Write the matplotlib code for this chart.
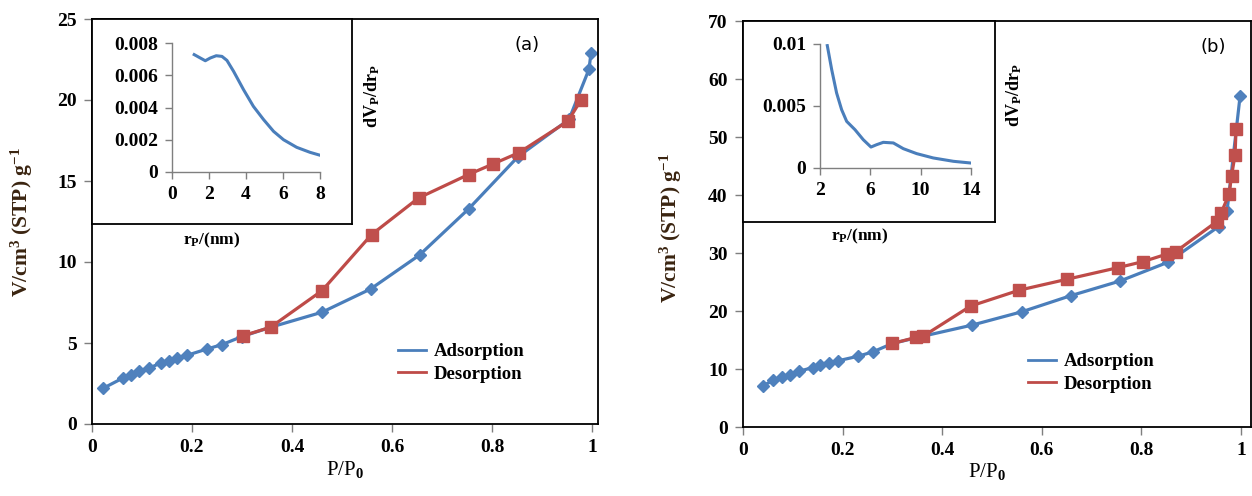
import matplotlib
matplotlib.use("Agg")
import matplotlib.pyplot as plt
from matplotlib.lines import Line2D

plt.rcParams["font.family"] = "Liberation Serif"
plt.rcParams["font.weight"] = "bold"
plt.rcParams["mathtext.fontset"] = "custom"
plt.rcParams["mathtext.rm"] = "Liberation Serif"
plt.rcParams["mathtext.bf"] = "Liberation Serif:bold"
plt.rcParams["mathtext.it"] = "Liberation Serif:italic"

# panel (a) isotherm
ads_a_x = [0.022, 0.062, 0.078, 0.094, 0.114, 0.138, 0.154, 0.170, 0.190, 0.230, 0.260,
           0.300, 0.357, 0.460, 0.557, 0.655, 0.753, 0.852, 0.954, 0.994, 0.998]
ads_a_y = [2.2, 2.84, 3.02, 3.3, 3.44, 3.78, 3.91, 4.1, 4.24, 4.63, 4.9,
           5.4, 5.97, 6.9, 8.33, 10.43, 13.27, 16.5, 18.8, 21.9, 22.9]
des_a_x = [0.302, 0.357, 0.460, 0.559, 0.653, 0.753, 0.802, 0.854, 0.952, 0.978]
des_a_y = [5.45, 5.97, 8.23, 11.69, 13.95, 15.4, 16.05, 16.75, 18.7, 20.0]

# panel (b) isotherm
ads_b_x = [0.040, 0.061, 0.079, 0.095, 0.113, 0.140, 0.154, 0.172, 0.190, 0.231, 0.261,
           0.300, 0.356, 0.460, 0.560, 0.658, 0.757, 0.853, 0.955, 0.972, 0.998]
ads_b_y = [7.1, 8.06, 8.64, 8.93, 9.62, 10.25, 10.77, 11.12, 11.4, 12.2, 12.96,
           14.4, 15.55, 17.57, 19.87, 22.64, 25.17, 28.4, 34.56, 37.27, 57.0]
des_b_x = [0.300, 0.347, 0.362, 0.457, 0.555, 0.650, 0.753, 0.803, 0.852, 0.869,
           0.951, 0.960, 0.976, 0.981, 0.988, 0.990]
des_b_y = [14.4, 15.44, 15.67, 20.85, 23.6, 25.46, 27.48, 28.51, 29.84, 30.24,
           35.4, 36.9, 40.15, 43.3, 46.95, 51.4]

# pore size distributions (insets)
psd_a_r = [1.2, 1.53, 1.8, 2.07, 2.39, 2.7, 2.97, 3.33, 3.87, 4.4, 4.95, 5.49, 6.03, 6.74, 7.46, 8.09]
psd_a_v = [0.00728, 0.00707, 0.0069, 0.00707, 0.00721, 0.00717, 0.00692, 0.00624, 0.0051,
           0.00407, 0.00325, 0.00252, 0.0020, 0.00153, 0.00122, 0.00101]
psd_b_r = [2.58, 2.93, 3.32, 3.72, 4.12, 4.78, 5.44, 6.05, 6.5, 7.03, 7.83, 8.62, 9.68, 11.0, 12.6, 14.0]
psd_b_v = [0.00987, 0.00793, 0.00605, 0.0047, 0.00376, 0.00309, 0.00228, 0.00169, 0.00188,
           0.00207, 0.00202, 0.00156, 0.00116, 0.00081, 0.00054, 0.0004]

blue_line, blue = "#4a7ebb", "#4f81bd"
red_line, red = "#be4b48", "#c0504d"
tick_gray = "#7f7f7f"
W, H = 1252, 496


def fx(px):
    return px / W


def fy(py):
    return 1 - py / H


fig = plt.figure(figsize=(12.52, 4.96), dpi=100)


def main_panel(left, right, top, bottom, xmax, ymax, ystep, ads, des):
    ax = fig.add_axes([fx(left), fy(bottom), fx(right - left), (bottom - top) / H])
    ax.plot(ads[0], ads[1], color=blue_line, lw=2.3, marker="D", ms=6.5,
            mfc=blue, mec=blue, zorder=2)
    ax.plot(des[0], des[1], color=red_line, lw=2.3, marker="s", ms=8.5,
            mfc=red, mec=red, zorder=3)
    ax.set_xlim(0, xmax)
    ax.set_ylim(0, ymax)
    ax.set_xticks([0, 0.2, 0.4, 0.6, 0.8, 1])
    ax.set_xticklabels(["0", "0.2", "0.4", "0.6", "0.8", "1"])
    yt = list(range(0, ymax + 1, ystep))
    ax.set_yticks(yt)
    ax.set_yticklabels([str(v) for v in yt])
    ax.tick_params(direction="out", length=6, width=1, color=tick_gray,
                   labelsize=14, pad=5)
    for s in ax.spines.values():
        s.set_linewidth(1.3)
        s.set_color("black")
    return ax


def inset(box, inner, xlim, xticks, ylim, yticks, ylabels, r, v):
    bx = fig.add_axes([fx(box[0]), fy(box[3]), fx(box[1] - box[0]), (box[3] - box[2]) / H], zorder=5)
    bx.set_xticks([])
    bx.set_yticks([])
    for s in bx.spines.values():
        s.set_linewidth(1.3)
        s.set_color("black")
    ix = fig.add_axes([fx(inner[0]), fy(inner[3]), fx(inner[1] - inner[0]), (inner[3] - inner[2]) / H], zorder=6)
    ix.patch.set_alpha(0)
    ix.plot(r, v, color=blue_line, lw=2.2)
    ix.set_xlim(*xlim)
    ix.set_ylim(*ylim)
    ix.set_xticks(xticks)
    ix.set_xticklabels([str(t) for t in xticks])
    ix.set_yticks(yticks)
    ix.set_yticklabels(ylabels)
    ix.spines["top"].set_visible(False)
    ix.spines["right"].set_visible(False)
    for s in ("left", "bottom"):
        ix.spines[s].set_color(tick_gray)
        ix.spines[s].set_linewidth(1)
    ix.tick_params(direction="out", length=5, width=1, color=tick_gray,
                   labelsize=14, pad=5)
    return ix


ax_a = main_panel(92, 598, 19, 424, 1.012, 25, 5, (ads_a_x, ads_a_y), (des_a_x, des_a_y))
ax_b = main_panel(743, 1251, 21, 427, 1.02, 70, 10, (ads_b_x, ads_b_y), (des_b_x, des_b_y))

inset((92, 352, 19, 224), (172, 320, 43, 172), (0, 8), [0, 2, 4, 6, 8],
      (0, 0.008), [0, 0.002, 0.004, 0.006, 0.008],
      ["0", "0.002", "0.004", "0.006", "0.008"], psd_a_r, psd_a_v)
inset((743, 995, 21, 222), (820, 971, 44, 168), (2, 14), [2, 6, 10, 14],
      (0, 0.01), [0, 0.005, 0.01], ["0", "0.005", "0.01"], psd_b_r, psd_b_v)

# labels
ylab = r"V/cm$^\mathbf{3}$ (STP) g$^\mathbf{-1}$"
fig.text(fx(22), fy(222), ylab, rotation=90, ha="center", va="center",
         fontsize=15.5, color="#3a2410")
fig.text(fx(671), fy(228), ylab, rotation=90, ha="center", va="center",
         fontsize=15.5, color="#3a2410")
fig.text(fx(345), fy(470), r"P/P$_\mathrm{0}$", ha="center", va="center",
         fontsize=15, fontweight="normal")
fig.text(fx(987), fy(472), r"P/P$_\mathrm{0}$", ha="center", va="center",
         fontsize=15, fontweight="normal")

inlab_y = r"dV$_\mathbf{P}$/dr$_\mathbf{P}$"
inlab_x = r"r$_\mathbf{P}$/(nm)"
fig.text(fx(372), fy(96), inlab_y, rotation=90, ha="center", va="center", fontsize=13)
fig.text(fx(1014), fy(95), inlab_y, rotation=90, ha="center", va="center", fontsize=13)
fig.text(fx(212), fy(240), inlab_x, ha="center", va="center", fontsize=12.5)
fig.text(fx(860), fy(236), inlab_x, ha="center", va="center", fontsize=12.5)

fig.text(fx(527), fy(45), "(a)", ha="center", va="center", fontsize=13,
         fontweight="normal", family="DejaVu Sans")
fig.text(fx(1213), fy(47), "(b)", ha="center", va="center", fontsize=13,
         fontweight="normal", family="DejaVu Sans")

handles = [Line2D([], [], color=blue_line, lw=2), Line2D([], [], color=red_line, lw=2)]
names = ["Adsorption", "Desorption"]
for ax, (lx, ly) in ((ax_a, (398, 343)), (ax_b, (1028, 353))):
    ax.legend(handles, names, loc="upper left", bbox_to_anchor=(fx(lx), fy(ly)),
              bbox_transform=fig.transFigure, frameon=False, handlelength=1.5,
              handletextpad=0.4, labelspacing=0.3, borderpad=0, borderaxespad=0,
              prop={"weight": "bold", "size": 13.5})

fig.savefig("out.png", dpi=100)
